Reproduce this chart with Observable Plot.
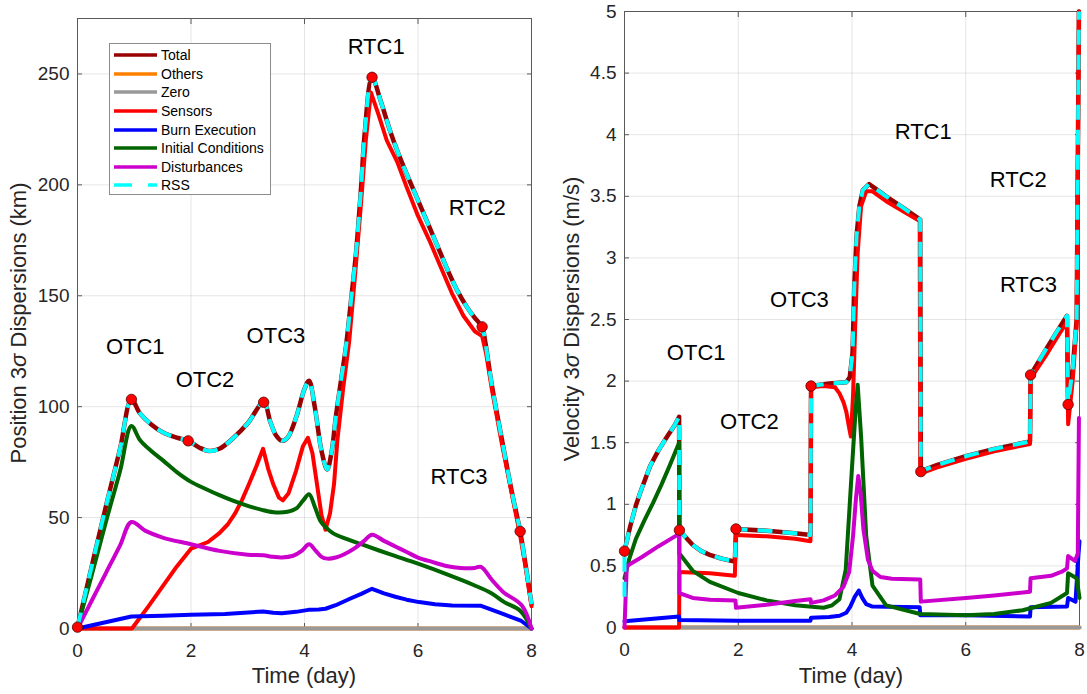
<!DOCTYPE html>
<html><head><meta charset="utf-8">
<script src="https://cdn.jsdelivr.net/npm/d3@7"></script>
<script src="https://cdn.jsdelivr.net/npm/@observablehq/plot@0.6"></script>
<style>
body{margin:0;background:#fff;}
#wrap{position:relative;width:1087px;height:694px;font-family:"Liberation Sans",Arial,Helvetica,sans-serif;overflow:hidden;}
#left,#right{position:absolute;top:0;}
#left{left:0}
#right{left:545px}
#legend{position:absolute;left:109px;top:43px;width:162px;height:152px;border:1px solid #8c8c8c;background:#fff;box-sizing:border-box;padding-top:2px;}
.row{height:18.6px;display:flex;align-items:center;font-size:14px;color:#000;white-space:nowrap;}
.row svg{margin-left:4px;margin-right:4px;}
</style></head><body>
<div id="wrap"><div id="left"></div><div id="right"></div><div id="legend"></div></div>
<script>
// ---------- Data ----------
const xTicks = [0, 2, 4, 6, 8];
const posTicks = [0, 50, 100, 150, 200, 250];
const velTicks = [0, 0.5, 1, 1.5, 2, 2.5, 3, 3.5, 4, 4.5, 5];

const seriesNames = ["Total", "Others", "Zero", "Sensors", "Burn Execution", "Initial Conditions", "Disturbances", "RSS"];
const seriesColors = ["#990000", "#ff8000", "#999999", "#ff0000", "#0000ff", "#006400", "#cc00cc", "#00ffff"];

// Position 3-sigma dispersions (km): [time (day), value]
const posTotal = [[0,0.6],[0.25,28],[0.5,55],[0.75,81],[0.95,103.3],[1.1,97],[1.3,92],[1.5,88.5],[1.75,86],[1.95,84.6],[2.15,81.5],[2.32,80],[2.5,81],[2.75,86],[3.0,92.5],[3.28,102],[3.4,93],[3.5,87],[3.6,84.6],[3.7,86],[3.85,95],[4.0,108],[4.08,111.7],[4.18,100],[4.3,80],[4.4,71.7],[4.48,80],[4.55,95],[4.65,113],[4.73,127],[4.82,148],[4.91,170],[5.0,200],[5.06,223],[5.19,248.5],[5.34,238],[5.5,225],[5.64,215],[5.8,205],[5.95,196],[6.1,187],[6.25,178],[6.4,169],[6.55,160],[6.7,152],[6.86,145],[7.0,140],[7.13,136],[7.18,130],[7.3,110],[7.48,85],[7.65,62],[7.8,43.8],[7.9,28],[8.0,11]];
const posRSS = [[0,0.6],[0.25,28],[0.5,55],[0.75,81],[0.95,103.3],[1.1,97],[1.3,92],[1.5,88.5],[1.75,86],[1.95,84.6],[2.15,81.5],[2.32,80],[2.5,81],[2.75,86],[3.0,92.5],[3.28,102],[3.4,93],[3.5,87],[3.6,84.6],[3.7,86],[3.85,95],[4.0,108],[4.08,111.7],[4.18,100],[4.3,80],[4.4,71.7],[4.48,80],[4.55,95],[4.65,113],[4.73,127],[4.82,148],[4.91,170],[5.0,200],[5.06,223],[5.19,248.5],[5.34,238],[5.5,225],[5.64,215],[5.8,205],[5.95,196],[6.1,187],[6.25,178],[6.4,169],[6.55,160],[6.7,152],[6.86,145],[7.0,140],[7.13,136],[7.18,130],[7.3,110],[7.48,85],[7.65,62],[7.8,43.8],[7.9,28],[8.0,11]];
const posOthers = [[0,0],[8,0]];
const posZero = [[0,0],[8,0]];
const posSensors = [[0,0],[0.96,0],[1.25,10],[1.5,19],[1.75,28],[2.0,36],[2.15,37.5],[2.3,39],[2.5,43],[2.65,47],[2.78,52],[2.9,58],[3.02,65],[3.15,73],[3.27,81],[3.36,72],[3.45,65],[3.55,59],[3.62,57.8],[3.72,61],[3.85,71],[3.97,82],[4.06,86],[4.14,79],[4.22,65],[4.3,51],[4.37,44.5],[4.45,52],[4.52,65],[4.58,85],[4.68,108],[4.79,130],[4.9,162],[5.0,193],[5.08,220],[5.17,241.7],[5.3,232],[5.45,220],[5.64,210],[5.8,199],[6.0,186],[6.2,175],[6.4,163],[6.6,151],[6.8,141],[7.0,134],[7.13,131.8],[7.2,124],[7.3,108],[7.48,83],[7.65,61],[7.8,42],[7.9,27],[8.0,10]];
const posBurn = [[0,0],[0.95,5.4],[1.5,5.8],[2.0,6.2],[2.6,6.5],[3.27,7.7],[3.45,7.1],[3.6,6.9],[3.85,7.5],[4.07,8.4],[4.25,8.6],[4.37,8.9],[4.55,10.5],[4.8,13.4],[5.0,15.6],[5.19,17.9],[5.4,15.8],[5.6,14.3],[5.8,13],[6.02,11.9],[6.3,10.9],[6.6,10.4],[7.1,10.3],[7.45,7],[7.81,3.6],[8.0,0]];
const posIC = [[0,0.6],[0.25,24],[0.5,48],[0.75,71],[0.95,91.3],[1.1,85],[1.3,80],[1.5,75.9],[1.75,70.5],[2.0,66.1],[2.25,63],[2.5,60.1],[2.75,57.5],[3.0,55.3],[3.25,53.5],[3.5,52.3],[3.7,52.6],[3.85,54],[3.97,57.5],[4.08,60.5],[4.18,55],[4.28,48.5],[4.37,45.8],[4.5,43],[4.75,40.3],[5.0,38],[5.5,33.5],[6.0,29.2],[6.5,24.5],[7.0,19.4],[7.3,15.8],[7.52,11.9],[7.8,8],[8.0,0]];
const posDist = [[0,0],[0.25,12.5],[0.5,25],[0.75,37.5],[0.95,48],[1.2,44],[1.5,41],[2.0,38],[2.5,35],[3.0,33.3],[3.27,33],[3.45,32.3],[3.6,32],[3.8,32.8],[3.95,35],[4.08,38],[4.2,35],[4.3,32.3],[4.4,31.5],[4.55,32],[4.7,33.5],[4.9,36.5],[5.05,39.5],[5.19,42.3],[5.4,39.5],[5.6,37],[5.8,34.5],[6.0,32],[6.25,30],[6.5,28.2],[6.75,27.3],[7.0,27.3],[7.11,27.8],[7.3,22],[7.5,16.5],[7.83,10.4],[8.0,0]];
const posEvents = [[0,0.6],[0.95,103.3],[1.95,84.6],[3.28,102],[5.19,248.5],[7.13,136],[7.8,43.8]];
const posNoteText = ["OTC1", "OTC2", "OTC3", "RTC1", "RTC2", "RTC3"];
const posNoteT = [0.5, 1.73, 2.98, 4.76, 6.54, 6.22];
const posNoteV = [127, 111.9, 132, 262, 189.6, 68.5];

// Velocity 3-sigma dispersions (m/s): [time (day), value]
const velTotal = [[0,0.62],[0.1,0.82],[0.2,0.99],[0.28,1.1],[0.45,1.31],[0.6,1.44],[0.75,1.55],[0.88,1.64],[0.96,1.71],[0.965,0.79],[1.1,0.72],[1.2,0.67],[1.35,0.62],[1.5,0.59],[1.7,0.56],[1.94,0.535],[1.96,0.8],[2.5,0.785],[3.0,0.765],[3.27,0.75],[3.28,1.96],[3.6,1.98],[3.9,1.99],[3.96,2.03],[4.01,2.23],[4.04,2.77],[4.08,3.18],[4.13,3.42],[4.19,3.55],[4.3,3.6],[4.45,3.55],[4.6,3.5],[4.89,3.41],[5.2,3.31],[5.21,1.27],[5.5,1.32],[6.0,1.39],[6.5,1.45],[7.13,1.51],[7.14,2.05],[7.4,2.25],[7.6,2.4],[7.78,2.53],[7.8,1.82],[7.88,2.1],[7.95,2.5],[7.99,5]];
const velRSS = [[0,0.25],[0,0.62],[0.1,0.82],[0.2,0.99],[0.28,1.1],[0.45,1.31],[0.6,1.44],[0.75,1.55],[0.88,1.64],[0.96,1.71],[0.965,0.79],[1.1,0.72],[1.2,0.67],[1.35,0.62],[1.5,0.59],[1.7,0.56],[1.94,0.535],[1.96,0.8],[2.5,0.785],[3.0,0.765],[3.27,0.75],[3.28,1.96],[3.6,1.98],[3.9,1.99],[3.96,2.03],[4.01,2.23],[4.04,2.77],[4.08,3.18],[4.13,3.42],[4.19,3.55],[4.3,3.6],[4.45,3.55],[4.6,3.5],[4.89,3.41],[5.2,3.31],[5.21,1.27],[5.5,1.32],[6.0,1.39],[6.5,1.45],[7.13,1.51],[7.14,2.05],[7.4,2.25],[7.6,2.4],[7.78,2.53],[7.8,1.82],[7.88,2.1],[7.95,2.5],[7.99,5]];
const velOthers = [[0,0],[8,0]];
const velZero = [[0,0],[8,0]];
const velSensors = [[0,0],[0.96,0],[0.965,0.45],[1.5,0.44],[1.94,0.42],[1.96,0.75],[2.5,0.74],[3.0,0.72],[3.27,0.70],[3.28,1.95],[3.5,1.96],[3.7,1.95],[3.78,1.9],[3.85,1.83],[3.9,1.75],[3.95,1.62],[3.98,1.55],[4.02,1.9],[4.06,2.5],[4.1,3.04],[4.16,3.42],[4.25,3.54],[4.36,3.54],[4.6,3.46],[4.89,3.38],[5.19,3.3],[5.2,1.25],[5.5,1.3],[6.0,1.37],[6.5,1.43],[7.13,1.49],[7.14,2.02],[7.4,2.2],[7.6,2.35],[7.78,2.48],[7.8,1.65],[7.88,2.0],[7.95,2.45],[7.99,5]];
const velBurn = [[0,0.05],[0.96,0.09],[0.965,0.06],[2,0.055],[3.27,0.055],[3.28,0.08],[3.6,0.085],[3.78,0.095],[3.9,0.12],[3.97,0.17],[4.05,0.25],[4.12,0.3],[4.18,0.24],[4.25,0.19],[4.36,0.17],[5.19,0.165],[5.2,0.1],[6.0,0.1],[7.13,0.09],[7.14,0.165],[7.78,0.17],[7.8,0.24],[7.93,0.21],[7.98,0.58],[8,0.7]];
const velIC = [[0,0.4],[0.08,0.55],[0.2,0.72],[0.35,0.87],[0.5,1.01],[0.65,1.16],[0.8,1.32],[0.96,1.5],[0.965,0.6],[1.2,0.46],[1.5,0.37],[2,0.28],[2.5,0.22],[3,0.18],[3.5,0.16],[3.65,0.18],[3.78,0.23],[3.89,0.47],[3.98,1.15],[4.06,1.74],[4.1,1.97],[4.16,1.55],[4.25,0.74],[4.36,0.34],[4.6,0.18],[5.2,0.11],[6,0.1],[6.5,0.11],[7,0.14],[7.5,0.2],[7.78,0.28],[7.8,0.44],[7.95,0.4],[8,0.24]];
const velDist = [[0,0],[0.04,0.5],[0.3,0.57],[0.6,0.66],[0.96,0.76],[0.965,0.28],[1.2,0.24],[1.5,0.225],[1.95,0.22],[1.96,0.16],[2.5,0.185],[3.0,0.215],[3.27,0.23],[3.28,0.2],[3.5,0.22],[3.7,0.26],[3.85,0.33],[3.95,0.45],[4.02,0.75],[4.07,1.05],[4.11,1.23],[4.15,1.1],[4.2,0.8],[4.28,0.55],[4.36,0.46],[4.5,0.41],[4.7,0.395],[5.2,0.39],[5.21,0.21],[6.0,0.24],[6.5,0.26],[7.13,0.29],[7.14,0.4],[7.5,0.42],[7.7,0.455],[7.78,0.48],[7.8,0.58],[7.92,0.54],[7.97,0.6],[7.99,1.7]];
const velEvents = [[0,0.62],[0.965,0.79],[1.96,0.8],[3.28,1.96],[5.21,1.265],[7.14,2.05],[7.8,1.81]];
const velNoteText = ["OTC1", "OTC2", "OTC3", "RTC1", "RTC2", "RTC3"];
const velNoteT = [0.745, 1.68, 2.56, 4.75, 6.42, 6.6];
const velNoteV = [2.23, 1.67, 2.66, 4.02, 3.63, 2.78];

// ---------- Drawing ----------
const FONT = '"Liberation Sans", Arial, Helvetica, sans-serif';
const INK = "#262626";
const DASH = "15,10";

function seriesMarks(list, smooth) {
  // list in draw order: Total, Others, Zero, Sensors, Burn, IC, Dist, RSS
  return list.map((data, i) => Plot.line(data, {
    x: d => d[0], y: d => d[1],
    curve: smooth && [0, 5, 6, 7].includes(i) ? "catmull-rom" : "linear",
    stroke: seriesColors[i],
    strokeWidth: i === 0 ? 4.5 : 4,
    strokeDasharray: i === 7 ? DASH : null,
    strokeLinecap: i === 7 ? "butt" : "round",
    strokeLinejoin: "round"
  }));
}

function panel({width, height, mL, mR, mT, mB, yDomain, yTicks, series, smooth, events, noteText, noteT, noteV}) {
  const notes = noteText.map((s, i) => ({s, t: noteT[i], v: noteV[i]}));
  return Plot.plot({
    width, height,
    marginLeft: mL, marginRight: mR, marginTop: mT, marginBottom: mB,
    style: {fontFamily: FONT, fontSize: "19px", color: INK, background: "white", overflow: "visible"},
    x: {domain: [0, 8]},
    y: {domain: yDomain},
    marks: [
      Plot.gridX(xTicks, {stroke: "#000", strokeOpacity: 0.1}),
      Plot.gridY(yTicks, {stroke: "#000", strokeOpacity: 0.1}),
      Plot.frame({stroke: "#5a5a5a", strokeWidth: 1}),
      Plot.axisX({ticks: xTicks, anchor: "bottom", tickSize: -5, tickPadding: 20, tickFormat: d => String(d), label: null, stroke: "#5a5a5a"}),
      Plot.axisX({ticks: xTicks, anchor: "top", tickSize: -5, tickFormat: () => "", label: null, stroke: "#5a5a5a"}),
      Plot.axisY({ticks: yTicks, anchor: "left", tickSize: -5, tickPadding: 13, tickFormat: d => String(d), label: null, stroke: "#5a5a5a"}),
      Plot.axisY({ticks: yTicks, anchor: "right", tickSize: -5, tickFormat: () => "", label: null, stroke: "#5a5a5a"}),
      ...seriesMarks(series, smooth),
      Plot.dot(events, {x: d => d[0], y: d => d[1], r: 5.2, fill: "#ff0000", stroke: "#550000", strokeWidth: 0.8}),
      Plot.text(notes, {x: "t", y: "v", text: "s", textAnchor: "start", lineAnchor: "middle", fontSize: 22, fill: "#000"})
    ]
  });
}

function addLabels(svg, yx, yy, pre, post, xx, xy) {
  const s = d3.select(svg);
  const t = s.append("text")
    .attr("transform", `translate(${yx},${yy}) rotate(-90)`)
    .attr("text-anchor", "middle").attr("font-size", 22)
    .attr("font-family", FONT).attr("fill", INK);
  t.append("tspan").text(pre);
  t.append("tspan").attr("font-style", "italic").text("σ");
  t.append("tspan").text(post);
  s.append("text").attr("x", xx).attr("y", xy)
    .attr("text-anchor", "middle").attr("font-size", 22)
    .attr("font-family", FONT).attr("fill", INK).text("Time (day)");
}

const left = panel({
  width: 545, height: 694, mL: 77, mR: 14, mT: 18, mB: 66,
  yDomain: [0, 275], yTicks: posTicks, smooth: true,
  series: [posTotal, posOthers, posZero, posSensors, posBurn, posIC, posDist, posRSS],
  events: posEvents, noteText: posNoteText, noteT: posNoteT, noteV: posNoteV
});
addLabels(left, 26, 323, "Position 3", " Dispersions (km)", 304, 683);
document.getElementById("left").appendChild(left);

const right = panel({
  width: 542, height: 694, mL: 79, mR: 8, mT: 11, mB: 67,
  yDomain: [0, 5], yTicks: velTicks, smooth: false,
  series: [velTotal, velOthers, velZero, velSensors, velBurn, velIC, velDist, velRSS],
  events: velEvents, noteText: velNoteText, noteT: velNoteT, noteV: velNoteV
});
addLabels(right, 34, 319, "Velocity 3", " Dispersions (m/s)", 306, 683);
document.getElementById("right").appendChild(right);

// Legend (HTML overlay)
const legend = d3.select("#legend");
seriesNames.forEach((name, i) => {
  const row = legend.append("div").attr("class", "row");
  const sv = row.append("svg").attr("width", 43).attr("height", 6);
  sv.append("line").attr("x1", 0).attr("x2", 43).attr("y1", 3).attr("y2", 3)
    .attr("stroke", seriesColors[i]).attr("stroke-width", 3.5)
    .attr("stroke-dasharray", i === 7 ? "18,16" : null);
  row.append("span").text(name);
});
</script>
</body></html>
